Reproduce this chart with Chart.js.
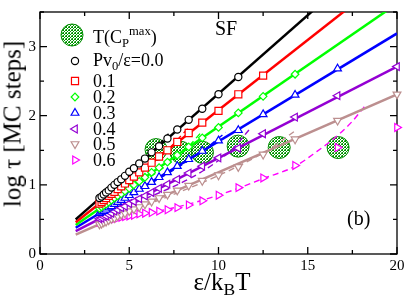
<!DOCTYPE html>
<html>
<head>
<meta charset="utf-8">
<script src="https://cdn.jsdelivr.net/npm/chart.js@4.4.0/dist/chart.umd.min.js"></script>
<style>
body { margin: 0; background: #fff; overflow: hidden; }
#wrap { position: relative; width: 409px; height: 303px; font-family: 'Liberation Serif', 'Times New Roman', serif; color: #000; }
#wrap canvas { position: absolute; left: 0; top: 0; }
.lbl { position: absolute; white-space: nowrap; line-height: 1; }
.lbl sub { font-size: 0.7em; vertical-align: -0.3em; line-height: 0; }
.lbl sup { font-size: 0.7em; vertical-align: 0.6em; line-height: 0; }
</style>
</head>
<body>
<div id="wrap">
  <canvas id="chart" width="409" height="303"></canvas>
  <div class="lbl" style="left:93px; top:28px; font-size:18px;">T(C<sub>P</sub><sup>max</sup>)</div>
  <div class="lbl" style="left:93px; top:51px; font-size:18px;">Pv<sub>0</sub>/ε=0.0</div>
  <div id="legendRows"></div>
  <div class="lbl" style="left:215px; top:18px; font-size:20px;">SF</div>
  <div class="lbl" style="left:347px; top:208px; font-size:20px;">(b)</div>
  <div class="lbl" style="left:222px; top:269px; font-size:25px; transform:translateX(-50%);">ε/k<sub>B</sub>T</div>
  <div class="lbl" style="left:12px; top:124px; font-size:25px; transform:translate(-50%,-50%) rotate(-90deg);">log τ [MC steps]</div>
</div>
<script>
// x = eps/kT (1/T), dense runs then the sparse low-T points
var xDense = [3.33, 3.45, 3.57, 3.70, 3.85, 4.00, 4.17, 4.35, 4.55, 4.76, 5.00, 5.26, 5.56, 5.88, 6.25, 6.67, 7.14, 7.69, 8.33];
var xSparse = [9.09, 10.0, 11.11, 12.5, 14.29, 16.67, 20.0];
var xAll = xDense.concat(xSparse);

// log tau for each Pv0/eps
var tau00 = [0.81, 0.83, 0.86, 0.89, 0.92, 0.96, 1.00, 1.04, 1.08, 1.13, 1.19, 1.24, 1.31, 1.38, 1.47, 1.56, 1.67, 1.80, 1.94, 2.10, 2.31, 2.56];
var tau01 = [0.73, 0.75, 0.78, 0.81, 0.84, 0.87, 0.90, 0.94, 0.98, 1.02, 1.07, 1.12, 1.18, 1.25, 1.32, 1.41, 1.50, 1.62, 1.75, 1.90, 2.07, 2.31, 2.58];
var tau02 = [0.66, 0.68, 0.70, 0.72, 0.75, 0.78, 0.81, 0.84, 0.87, 0.91, 0.95, 1.00, 1.05, 1.11, 1.18, 1.25, 1.33, 1.43, 1.55, 1.68, 1.83, 2.04, 2.28, 2.60];
var tau03 = [0.59, 0.61, 0.62, 0.64, 0.67, 0.69, 0.72, 0.75, 0.78, 0.81, 0.85, 0.89, 0.94, 0.98, 1.04, 1.11, 1.18, 1.27, 1.37, 1.49, 1.64, 1.79, 2.02, 2.30, 2.68];
var tau04 = [0.51, 0.52, 0.54, 0.55, 0.57, 0.59, 0.62, 0.64, 0.67, 0.69, 0.73, 0.76, 0.80, 0.84, 0.89, 0.95, 1.01, 1.08, 1.17, 1.27, 1.39, 1.53, 1.74, 1.98, 2.29, 2.71];
var tau05 = [0.43, 0.44, 0.46, 0.47, 0.49, 0.51, 0.52, 0.55, 0.57, 0.59, 0.62, 0.65, 0.68, 0.72, 0.76, 0.81, 0.86, 0.92, 0.99, 1.06, 1.14, 1.26, 1.44, 1.66, 1.93, 2.31];
var tau06 = [0.46, 0.47, 0.47, 0.48, 0.49, 0.50, 0.51, 0.52, 0.53, 0.54, 0.55, 0.56, 0.58, 0.59, 0.60, 0.62, 0.64, 0.67, 0.71, 0.77, 0.85, 0.96, 1.10, 1.28, 1.54, 1.83];

// straight Arrhenius fits (solid), end points
var fitX = [2, 20];
var fit00 = [0.50, 4.59];
var fit01 = [0.46, 4.11];
var fit02 = [0.42, 3.62];
var fit03 = [0.38, 3.19];
var fit04 = [0.33, 2.71];
var fit05 = [0.28, 2.31];

// dashed fits to the high-T data
var dashX00 = [3.33, 6.0, 7.2];   var dash00 = [0.81, 1.40, 1.74];
var dashX01 = [3.33, 7.0, 8.3];   var dash01 = [0.73, 1.47, 1.82];
var dashX02 = [3.33, 8.0, 9.0];   var dash02 = [0.66, 1.47, 1.75];
var dashX03 = [3.33, 9.0, 10.4];  var dash03 = [0.59, 1.47, 1.76];
var dashX04 = [3.33, 10.5, 11.8]; var dash04 = [0.51, 1.45, 1.82];
var dashX05 = [3.33, 12.5, 14.4]; var dash05 = [0.43, 1.46, 1.80];
var dashX06 = [3.33, 5.0, 7.0, 9.0, 11.0, 12.5, 14.3, 15.5, 16.7, 17.5, 18.2];
var dash06 = [0.46, 0.55, 0.64, 0.77, 0.94, 1.09, 1.27, 1.48, 1.72, 1.92, 2.14];

// T(Cp max)
var cpX = [6.5, 7.9, 9.1, 11.1, 13.4, 16.7];
var cpY = [1.51, 1.47, 1.47, 1.56, 1.54, 1.54];

var legendLabels = ['0.1', '0.2', '0.3', '0.4', '0.5', '0.6'];
var yTicks = [0, 1, 2, 3];

var series = [
    { tau: tau00, fit: fit00, dx: dashX00, dy: dash00, color: '#000000', style: 'circle', r: 3.6, rot: 0 },
    { tau: tau01, fit: fit01, dx: dashX01, dy: dash01, color: '#ff0000', style: 'rect', r: 5, rot: 0 },
    { tau: tau02, fit: fit02, dx: dashX02, dy: dash02, color: '#00ff00', style: 'rectRot', r: 3.8, rot: 0 },
    { tau: tau03, fit: fit03, dx: dashX03, dy: dash03, color: '#0000ff', style: 'triangle', r: 4.5, rot: 0 },
    { tau: tau04, fit: fit04, dx: dashX04, dy: dash04, color: '#9400d3', style: 'triangle', r: 4.5, rot: -90 },
    { tau: tau05, fit: fit05, dx: dashX05, dy: dash05, color: '#bc8f8f', style: 'triangle', r: 4.5, rot: 180 },
    { tau: tau06, fit: null, dx: dashX06, dy: dash06, color: '#ff00ff', style: 'triangle', r: 4.5, rot: 90 }
];

function pairs(xs, ys) {
    return ys.map(function (y, i) { return { x: xs[i], y: y }; });
}

// crosshatch fill: green checker dots on white
function makeHatch() {
    var c = document.createElement('canvas');
    c.width = 3; c.height = 3;
    var g = c.getContext('2d');
    g.fillStyle = '#ffffff';
    g.fillRect(0, 0, 3, 3);
    g.fillStyle = 'rgb(0,150,0)';
    g.fillRect(0, 0, 1, 1);
    g.fillRect(2, 0, 1, 1);
    g.fillRect(1, 1, 1, 1);
    g.fillRect(0, 2, 1, 1);
    g.fillStyle = 'rgb(120,200,120)';
    g.fillRect(2, 2, 1, 1);
    return g.createPattern(c, 'repeat');
}
var hatch = makeHatch();

var datasets = [];
// big hatched circles at the bottom
datasets.push({
    data: pairs(cpX, cpY), order: 9, clip: false,
    pointStyle: 'circle', pointRadius: 11, pointBackgroundColor: hatch,
    pointBorderColor: 'rgb(0,140,0)', pointBorderWidth: 1
});
series.forEach(function (s) {
    datasets.push({
        data: pairs(s.dx, s.dy), showLine: true, order: 6, pointRadius: 0,
        borderColor: s.color, borderWidth: 1.4, borderDash: [6, 4], cubicInterpolationMode: 'monotone'
    });
    if (s.fit) {
        datasets.push({
            data: pairs(fitX, s.fit), showLine: true, order: 4, pointRadius: 0,
            borderColor: s.color, borderWidth: 2.5
        });
    }
});
series.forEach(function (s) {
    datasets.push({
        data: pairs(xAll, s.tau), order: 1, clip: false,
        pointStyle: s.style, pointRadius: s.r, pointRotation: s.rot,
        pointBackgroundColor: '#ffffff', pointBorderColor: s.color, pointBorderWidth: 1.2
    });
});

function drawMarker(ctx, style, x, y, r, rot, color) {
    ctx.save();
    ctx.translate(x, y);
    ctx.rotate(rot * Math.PI / 180);
    ctx.beginPath();
    if (style === 'circle') {
        ctx.arc(0, 0, r, 0, 2 * Math.PI);
    } else if (style === 'rect') {
        var h = r * Math.SQRT1_2;
        ctx.rect(-h, -h, 2 * h, 2 * h);
    } else if (style === 'rectRot') {
        ctx.moveTo(-r, 0); ctx.lineTo(0, -r); ctx.lineTo(r, 0); ctx.lineTo(0, r);
        ctx.closePath();
    } else {
        for (var k = 0; k < 3; k++) {
            var a = k * 2 * Math.PI / 3;
            if (k === 0) ctx.moveTo(Math.sin(a) * r, -Math.cos(a) * r);
            else ctx.lineTo(Math.sin(a) * r, -Math.cos(a) * r);
        }
        ctx.closePath();
    }
    ctx.fillStyle = '#ffffff';
    ctx.fill();
    ctx.lineWidth = 1.2;
    ctx.strokeStyle = color;
    ctx.stroke();
    ctx.restore();
}

// frame with inward ticks on all four sides
var framePlugin = {
    id: 'frame',
    beforeDatasetsDraw: function (chart) {
        var ctx = chart.ctx, a = chart.chartArea;
        var xs = chart.scales.x, ys = chart.scales.y;
        ctx.save();
        ctx.strokeStyle = '#000';
        ctx.lineWidth = 1.3;
        ctx.strokeRect(a.left, a.top, a.right - a.left, a.bottom - a.top);
        ctx.beginPath();
        for (var v = 0; v <= 20; v += 2.5) {
            var px = xs.getPixelForValue(v);
            var len = (v % 5 === 0) ? 7 : 4;
            ctx.moveTo(px, a.bottom); ctx.lineTo(px, a.bottom - len);
            ctx.moveTo(px, a.top); ctx.lineTo(px, a.top + len);
        }
        for (var w = 0; w <= 3.5; w += 0.5) {
            var py = ys.getPixelForValue(w);
            var l2 = (w % 1 === 0) ? 7 : 4;
            ctx.moveTo(a.left, py); ctx.lineTo(a.left + l2, py);
            ctx.moveTo(a.right, py); ctx.lineTo(a.right - l2, py);
        }
        ctx.stroke();
        ctx.restore();
    },
    afterDraw: function (chart) {
        var ctx = chart.ctx;
        // legend symbols
        ctx.save();
        ctx.beginPath();
        ctx.arc(72, 35, 11, 0, 2 * Math.PI);
        ctx.fillStyle = hatch;
        ctx.fill();
        ctx.lineWidth = 1;
        ctx.strokeStyle = 'rgb(0,140,0)';
        ctx.stroke();
        ctx.restore();
        var rowsY = [61, 81, 97, 113, 129, 144, 160];
        series.forEach(function (s, i) {
            drawMarker(ctx, s.style, 75, rowsY[i], s.r, s.rot, s.color);
        });
    }
};

// legend text rows
var rowsBox = document.getElementById('legendRows');
var rowTops = [72, 88, 104, 120, 135, 151];
legendLabels.forEach(function (t, i) {
    var d = document.createElement('div');
    d.className = 'lbl';
    d.style.left = '93px';
    d.style.top = rowTops[i] + 'px';
    d.style.fontSize = '18px';
    d.textContent = t;
    rowsBox.appendChild(d);
});

Chart.defaults.font.family = "'Liberation Serif', 'Times New Roman', serif";
Chart.defaults.color = '#000';

new Chart(document.getElementById('chart').getContext('2d'), {
    type: 'scatter',
    data: { datasets: datasets },
    options: {
        animation: false,
        responsive: false,
        events: [],
        layout: { padding: { top: 2, right: 9, left: 0, bottom: 0 } },
        plugins: { legend: { display: false }, tooltip: { enabled: false } },
        scales: {
            x: {
                type: 'linear', min: 0, max: 20,
                grid: { display: false, drawTicks: false },
                border: { display: false },
                ticks: { stepSize: 5, padding: 3, font: { size: 15 }, maxRotation: 0 },
                afterFit: function (s) { s.height = 49; s.paddingLeft = 0; s.paddingRight = 0; }
            },
            y: {
                type: 'linear', min: 0, max: 3.5,
                grid: { display: false, drawTicks: false },
                border: { display: false },
                ticks: { padding: 4, font: { size: 15 } },
                afterBuildTicks: function (s) { s.ticks = yTicks.map(function (v) { return { value: v }; }); },
                afterFit: function (s) { s.width = 40; s.paddingTop = 0; s.paddingBottom = 0; }
            }
        }
    },
    plugins: [framePlugin]
});
</script>
</body>
</html>
